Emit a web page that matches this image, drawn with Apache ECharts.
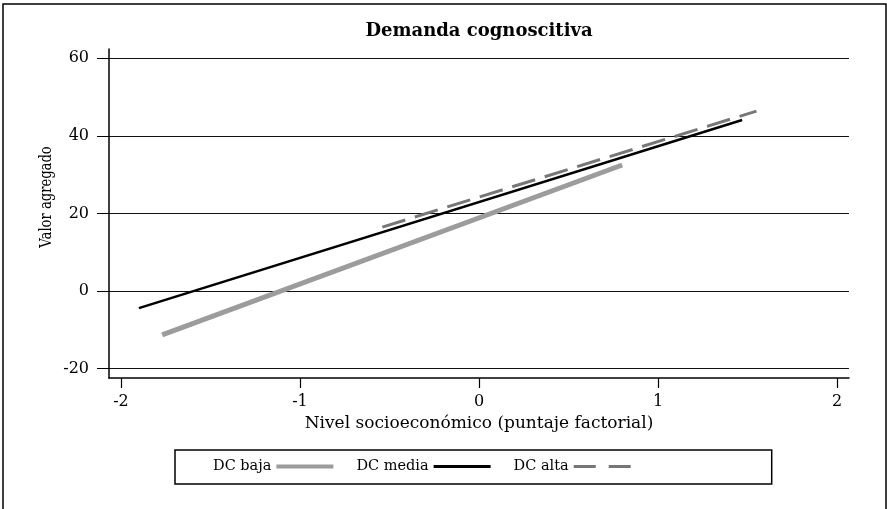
<!DOCTYPE html>
<html>
<head>
<meta charset="utf-8">
<script src="https://cdn.jsdelivr.net/npm/echarts@6/dist/echarts.min.js"></script>
<style>
  html, body { margin: 0; padding: 0; background: #fff; }
  #chart { width: 887px; height: 509px; }
</style>
</head>
<body>
<div id="chart"></div>
<script>
// fitted lines, two end points each: [x, y]
const bajaLine = [[-1.77, -11.3], [0.80, 32.5]];
const mediaLine = [[-1.90, -4.4], [1.47, 44.1]];
const altaLine = [[-0.54, 16.5], [1.55, 46.4]];

const xTicks = [-2, -1, 0, 1, 2];
const yTicks = [-20, 0, 20, 40, 60];

const FONT = "'DejaVu Serif', 'Liberation Serif', serif";

// legend swatches: solid bars and a two-dash bar
const solidIcon = "path://M0,0 L57,0 L57,4 L0,4 Z";
const thinIcon = "path://M0,0 L57,0 L57,3 L0,3 Z";
const dashIcon = "path://M0,0 L22,0 L22,3 L0,3 Z M35,0 L57,0 L57,3 L35,3 Z";

const chart = echarts.init(document.getElementById("chart"), null, { renderer: "canvas" });

chart.setOption({
  animation: false,
  backgroundColor: "#fff",
  textStyle: { fontFamily: FONT, color: "#000" },
  graphic: [
    {
      type: "rect", silent: true,
      shape: { x: 3, y: 4, width: 883, height: 520 },
      style: { fill: "none", stroke: "#000", lineWidth: 1.5 },
    },
    {
      type: "text", x: 479, y: 31,
      style: {
        text: "Demanda cognoscitiva", fill: "#000",
        font: "bold 18px " + FONT, align: "center", verticalAlign: "middle",
      },
    },
    {
      // the source image is squeezed vertically, so the rotated label runs shorter
      type: "text", x: 47, y: 197, rotation: Math.PI / 2, scaleX: 0.82,
      style: {
        text: "Valor agregado", fill: "#000",
        font: "16px " + FONT, align: "center", verticalAlign: "middle",
      },
    },
  ],
  grid: { left: 109, right: 38, top: 49, bottom: 131, containLabel: false },
  xAxis: {
    type: "value", min: -2.067, max: 2.067,
    name: "Nivel socioeconómico (puntaje factorial)",
    nameLocation: "middle", nameGap: 30,
    nameTextStyle: { fontSize: 17, fontFamily: FONT, color: "#000" },
    axisLine: { show: true, onZero: false, lineStyle: { color: "#000", width: 1.5 } },
    axisTick: { show: true, length: 10, inside: false, customValues: xTicks,
                lineStyle: { color: "#000", width: 1.2 } },
    axisLabel: { customValues: xTicks, margin: 16, fontSize: 16, fontFamily: FONT, color: "#000",
                 formatter: (v) => String(v) },
    splitLine: { show: false },
  },
  yAxis: {
    type: "value", min: -22.4, max: 62.4,
    axisLine: { show: true, onZero: false, lineStyle: { color: "#000", width: 1.5 } },
    axisTick: { show: true, length: 12, inside: false, customValues: yTicks,
                lineStyle: { color: "#000", width: 1 } },
    axisLabel: { customValues: yTicks, margin: 20, fontSize: 16, fontFamily: FONT, color: "#000",
                 formatter: (v) => String(v) },
    splitLine: { show: true, lineStyle: { color: "#111", width: 1 } },
  },
  legend: {
    left: 175, top: 450,
    padding: [9, 141, 10, 38],
    borderColor: "#000", borderWidth: 1.5,
    align: "right", itemGap: 23,
    itemWidth: 57, itemHeight: 14,
    textStyle: { fontSize: 14.5, fontFamily: FONT, color: "#000" },
    data: [
      { name: "DC baja", icon: solidIcon },
      { name: "DC media", icon: thinIcon },
      { name: "DC alta", icon: dashIcon },
    ],
  },
  series: [
    {
      name: "DC baja", type: "line", data: bajaLine,
      symbol: "none", showSymbol: false,
      lineStyle: { color: "#9c9c9c", width: 5 }, itemStyle: { color: "#9c9c9c" },
    },
    {
      name: "DC media", type: "line", data: mediaLine,
      symbol: "none", showSymbol: false,
      lineStyle: { color: "#000", width: 2.5 }, itemStyle: { color: "#000" },
    },
    {
      name: "DC alta", type: "line", data: altaLine,
      symbol: "none", showSymbol: false,
      lineStyle: { color: "#777", width: 3, type: [24, 10] }, itemStyle: { color: "#777" },
    },
  ],
});
</script>
</body>
</html>
